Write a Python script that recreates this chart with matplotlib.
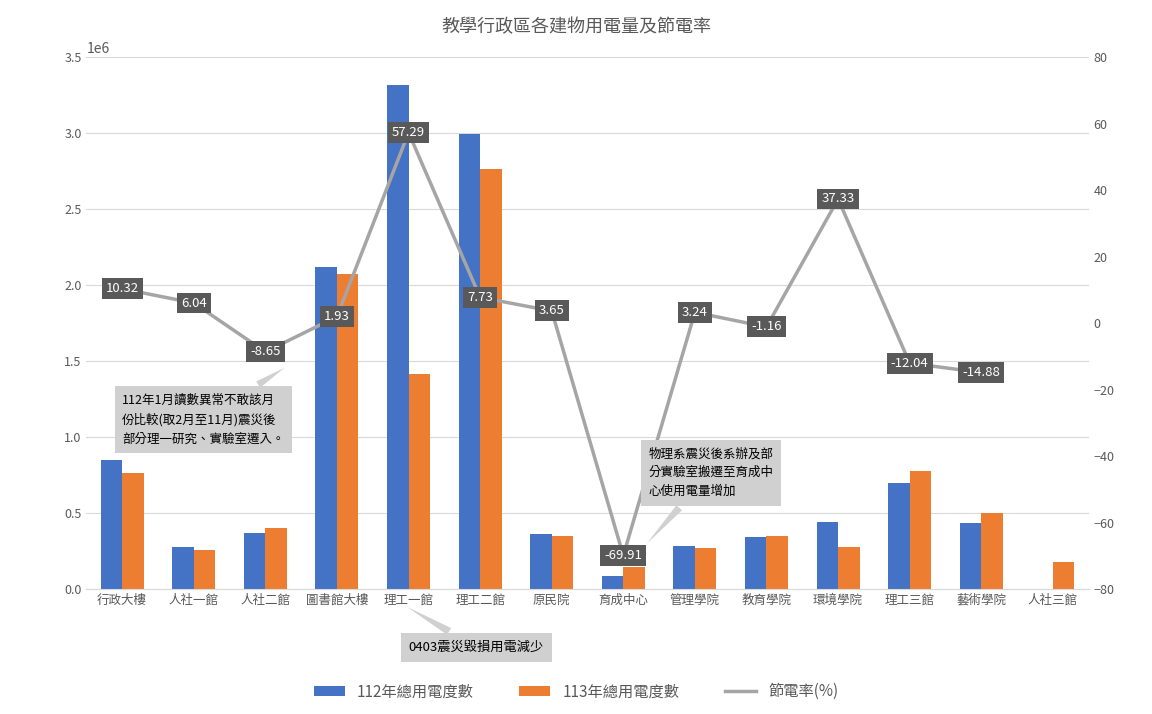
import numpy as np
import matplotlib
matplotlib.use("Agg")
import matplotlib.pyplot as plt

plt.rcParams["font.family"] = ["Noto Sans CJK TC", "DejaVu Sans"]

CATEGORIES = ["行政大樓", "人社一館", "人社二館", "圖書館大樓", "理工一館", "理工二館", "原民院",
              "育成中心", "管理學院", "教育學院", "環境學院", "理工三館", "藝術學院", "人社三館"]
USAGE_112 = [852000, 277000, 370000, 2120000, 3316000, 2992000, 363000,
             86000, 284000, 343000, 442000, 700000, 436000, 0]
USAGE_113 = [766000, 258000, 403000, 2074000, 1413000, 2761000, 350000,
             145000, 271000, 350000, 277000, 779000, 502000, 178000]
SAVING_RATE = [10.32, 6.04, -8.65, 1.93, 57.29, 7.73, 3.65,
               -69.91, 3.24, -1.16, 37.33, -12.04, -14.88, np.nan]

BLUE = "#4472C4"
ORANGE = "#ED7D31"
GRAY = "#A5A5A5"
TEXT = "#595959"


def main() -> None:
    fig, ax = plt.subplots(figsize=(11.52, 7.14), dpi=100)
    fig.subplots_adjust(left=0.075, right=0.945, top=0.92, bottom=0.175)
    x = np.arange(len(CATEGORIES))
    w = 0.3
    ax.bar(x - w / 2, USAGE_112, w, color=BLUE, label="112年總用電度數", zorder=2)
    ax.bar(x + w / 2, USAGE_113, w, color=ORANGE, label="113年總用電度數", zorder=2)
    ax.set_ylim(0, 3500000)
    ax.set_yticks(np.arange(0, 3500001, 500000))
    ax.set_xlim(-0.5, len(CATEGORIES) - 0.5)
    ax.set_xticks(x)
    ax.set_xticklabels(CATEGORIES)
    ax.grid(axis="y", color="#D9D9D9", linewidth=0.8, zorder=0)
    for s in ("top", "right", "left"):
        ax.spines[s].set_visible(False)
    ax.spines["bottom"].set_color("#D9D9D9")
    ax.tick_params(length=0, colors=TEXT, labelsize=9)

    ax2 = ax.twinx()
    ax2.plot(x, SAVING_RATE, color=GRAY, linewidth=2.5, label="節電率(%)", zorder=3)
    ax2.set_ylim(-80, 80)
    ax2.set_yticks(np.arange(-80, 81, 20))
    for s in ax2.spines.values():
        s.set_visible(False)
    ax2.tick_params(length=0, colors=TEXT, labelsize=9)
    for xi, v in zip(x, SAVING_RATE):
        if np.isnan(v):
            continue
        ax2.text(xi, v, f"{v:.2f}", ha="center", va="center", color="white", fontsize=9.5,
                 bbox=dict(boxstyle="square,pad=0.3", fc="#595959", ec="none"), zorder=5)

    callout = dict(boxstyle="square,pad=0.6", fc="#D0D0D0", ec="none")
    ax2.annotate("112年1月讀數異常不敢該月\n份比較(取2月至11月)震災後\n部分理一研究、實驗室遷入。",
                 xy=(2.3, -13), xytext=(0.0, -29), fontsize=9, color="black", va="center",
                 linespacing=1.6, bbox=callout,
                 arrowprops=dict(arrowstyle="wedge,tail_width=0.6", fc="#D0D0D0", ec="none"))
    ax2.annotate("物理系震災後系辦及部\n分實驗室搬遷至育成中\n心使用電量增加",
                 xy=(7.3, -67), xytext=(7.35, -45), fontsize=9, color="black", va="center",
                 linespacing=1.6, bbox=callout,
                 arrowprops=dict(arrowstyle="wedge,tail_width=0.6", fc="#D0D0D0", ec="none"))
    ax2.annotate("0403震災毀損用電減少", xy=(3.95, -85), xytext=(4.0, -97.5),
                 fontsize=9.5, color="black", va="center", annotation_clip=False,
                 bbox=callout,
                 arrowprops=dict(arrowstyle="wedge,tail_width=0.6", fc="#D0D0D0", ec="none"))

    fig.suptitle("教學行政區各建物用電量及節電率", color=TEXT, fontsize=13, y=0.975)
    h1, l1 = ax.get_legend_handles_labels()
    h2, l2 = ax2.get_legend_handles_labels()
    fig.legend(h1 + h2, l1 + l2, loc="lower center", ncol=3, frameon=False,
               bbox_to_anchor=(0.5, 0.0), fontsize=11, labelcolor=TEXT, columnspacing=3)
    fig.savefig("out.png")


if __name__ == "__main__":
    main()
